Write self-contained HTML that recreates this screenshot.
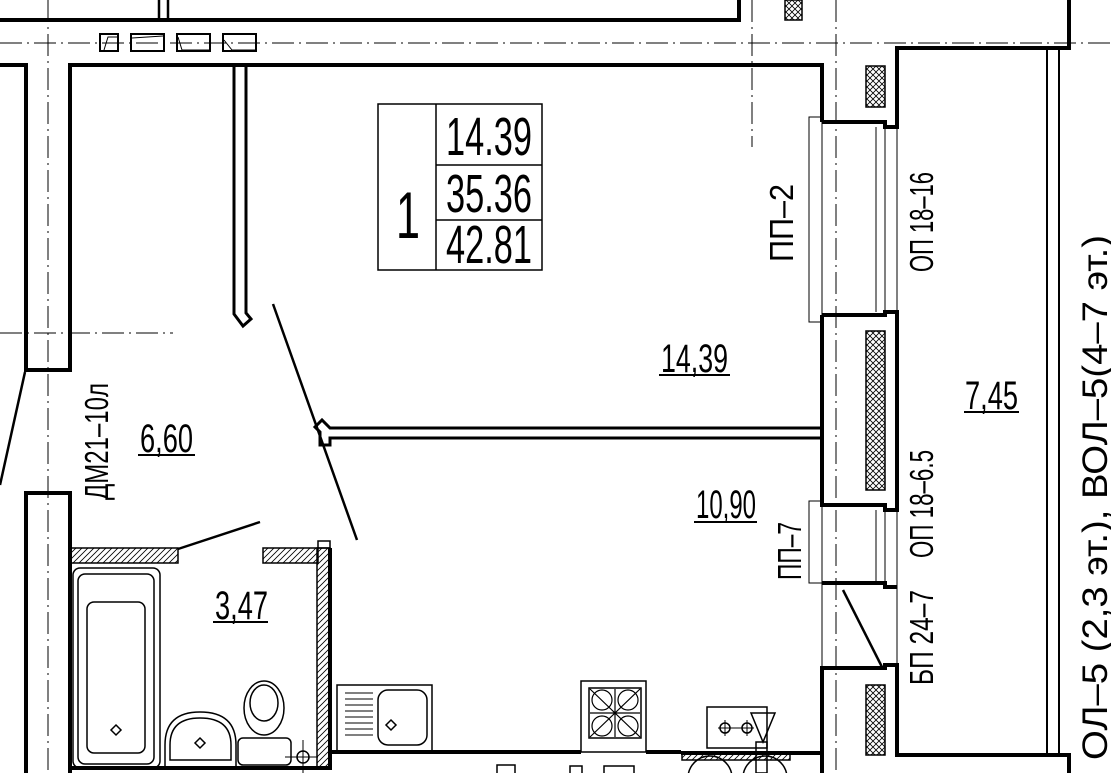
<!DOCTYPE html>
<html><head><meta charset="utf-8"><style>
html,body{margin:0;padding:0;background:#fff;width:1111px;height:773px;overflow:hidden}
svg{display:block}
text{font-family:"Liberation Sans",sans-serif;fill:#000}
</style></head><body>
<svg width="1111" height="773" viewBox="0 0 1111 773" xmlns="http://www.w3.org/2000/svg">
<defs>
<pattern id="xh" width="6" height="6" patternUnits="userSpaceOnUse"><path d="M0,0L6,6M6,0L0,6" stroke="#000" stroke-width="0.8"/></pattern>
<pattern id="dh" width="6" height="6" patternUnits="userSpaceOnUse"><path d="M0,6L6,0M-1,1L1,-1M5,7L7,5" stroke="#000" stroke-width="0.8"/></pattern>
</defs>
<g fill="none" stroke="#000">
<g stroke-width="1" stroke-dasharray="22,5,2,5">
<line x1="0" y1="43" x2="1111" y2="43"/>
<line x1="48" y1="0" x2="48" y2="773"/>
<line x1="0" y1="333" x2="173" y2="333"/>
<line x1="752" y1="0" x2="752" y2="147"/>
<line x1="836" y1="0" x2="836" y2="773"/>
</g>
<g stroke-width="4">
<path d="M0,20H739V0"/>
<path d="M159,0V20M168,0V20" stroke-width="2.5"/>
<path d="M0,65H26V370H70V65H822V122"/>
<path d="M24,493H70V773M26,493V773"/>
<path d="M822,122H885V127H897V48H1069V0"/>
<path d="M822,315H885V312H897V510H885V505H822V315"/>
<path d="M822,583H885V587H897"/>
<path d="M822,773V668H885V665H897V755H1069V773"/>
<path d="M681,753H822"/>
<path d="M70,768H330V548"/>
<path d="M330,752H581M646,752H681"/>
</g>
<g stroke-width="3">
<path d="M234,65V314L243,326L251,319L246,313V65"/>
<path d="M822,428H330L322,420L315,427L320,432V445H330V438H822"/>
<line x1="273" y1="304" x2="357" y2="540" stroke-width="2.5"/>
<line x1="25" y1="372" x2="0" y2="485" stroke-width="2.5"/>
<line x1="178" y1="549" x2="260" y2="522" stroke-width="2.5"/>
<line x1="843" y1="590" x2="882" y2="667" stroke-width="2.5"/>
</g>
<g stroke-width="1">
<rect x="809" y="117" width="13" height="205"/>
<line x1="822" y1="122" x2="822" y2="315" stroke-dasharray="6,3"/>
<line x1="876" y1="127" x2="876" y2="312"/><line x1="885" y1="127" x2="885" y2="312"/>
<line x1="897" y1="127" x2="897" y2="312"/>
<rect x="809" y="501" width="13" height="82"/>
<line x1="822" y1="505" x2="822" y2="583" stroke-dasharray="6,3"/>
<line x1="876" y1="510" x2="876" y2="583"/><line x1="885" y1="510" x2="885" y2="583"/>
<line x1="897" y1="510" x2="897" y2="587"/>
<line x1="822" y1="583" x2="822" y2="668"/><line x1="897" y1="587" x2="897" y2="665"/>
<line x1="1047" y1="50" x2="1047" y2="753" stroke-width="2"/>
<line x1="1059" y1="50" x2="1059" y2="753" stroke-width="2"/>
</g>
<g stroke-width="1.5">
<rect x="785" y="0" width="17" height="20" fill="url(#xh)"/>
<rect x="866" y="66" width="19" height="41" fill="url(#xh)"/>
<rect x="866" y="331" width="19" height="159" fill="url(#xh)"/>
<rect x="866" y="685" width="19" height="70" fill="url(#xh)"/>
<rect x="70" y="548" width="108" height="15" fill="url(#dh)"/>
<rect x="263" y="548" width="55" height="15" fill="url(#dh)"/>
<rect x="317" y="548" width="13" height="220" fill="url(#dh)"/>
<rect x="318" y="541" width="12" height="7"/>
<rect x="682" y="752" width="108" height="8" fill="url(#dh)"/>
</g>
<g stroke-width="2">
<rect x="100" y="34" width="18" height="17"/><rect x="131" y="34" width="33" height="17"/>
<rect x="177" y="34" width="33" height="17"/><rect x="223" y="34" width="33" height="17"/>
<path d="M104,50L108,37H117M132,38L163,36M178,37L182,50L209,50M224,40L232,50H255" stroke-width="1"/>
</g>
<g stroke-width="1.5">
<rect x="378" y="104" width="164" height="166"/>
<line x1="436" y1="104" x2="436" y2="270"/>
<line x1="436" y1="165" x2="542" y2="165"/><line x1="436" y1="220" x2="542" y2="220"/>
</g>
<g stroke-width="1.5">
<rect x="73" y="568" width="87" height="200" rx="7"/>
<rect x="78" y="574" width="76" height="190" rx="7"/>
<rect x="87" y="602" width="58" height="151" rx="7"/>
<path d="M116,725l5,5l-5,5l-5,-5z"/>
<path d="M165,766V745Q165,712 200,712Q236,712 236,745V766"/>
<path d="M170,760V745Q170,718 200,718Q231,718 231,745V760Z"/>
<path d="M200,738l5,5l-5,5l-5,-5z"/>
<rect x="238" y="738" width="53" height="27" rx="5"/>
<ellipse cx="264" cy="708" rx="20" ry="27"/>
<ellipse cx="264" cy="703" rx="14" ry="18"/>
<circle cx="303" cy="757" r="6"/>
<path d="M303,740V773M285,757H318" stroke-width="1"/>
</g>
<g stroke-width="1.5">
<rect x="337" y="685" width="95" height="67"/>
<path d="M345,693H373M345,699H373M345,705H373M345,711H373M345,717H373M345,723H373M345,729H373M345,735H373" stroke-width="1"/>
<rect x="378" y="690" width="49" height="55" rx="10"/>
<path d="M391,720l5,5l-5,5l-5,-5z"/>
<rect x="581" y="681" width="65" height="71"/>
<rect x="589" y="688" width="52" height="50"/>
<g stroke-width="1.2">
<circle cx="602" cy="700" r="10"/><circle cx="628" cy="700" r="10"/>
<circle cx="602" cy="726" r="10"/><circle cx="628" cy="726" r="10"/>
<path d="M590,689L640,737M640,689L590,737M590,713H640M615,689V737"/>
</g>
<rect x="707" y="707" width="60" height="41"/>
<circle cx="725" cy="728" r="5"/><circle cx="747" cy="728" r="5"/>
<path d="M718,728H754M725,720V736M747,720V736" stroke-width="1"/>
<path d="M751,713H775L763,742Z"/>
<rect x="756" y="742" width="11" height="31"/>
<circle cx="710" cy="778" r="22"/><circle cx="765" cy="778" r="22"/>
<rect x="497" y="765" width="18" height="12"/>
<rect x="604" y="766" width="30" height="12"/>
<rect x="570" y="766" width="12" height="12"/>
</g>
<g stroke-width="2">
<line x1="659" y1="375" x2="730" y2="375"/>
<line x1="694" y1="522" x2="757" y2="522"/>
<line x1="138" y1="455" x2="195" y2="455"/>
<line x1="213" y1="622" x2="268" y2="622"/>
<line x1="964" y1="412" x2="1019" y2="412"/>
</g>
</g>
<g font-size="54">
<text x="446" y="155" textLength="86" lengthAdjust="spacingAndGlyphs">14.39</text>
<text x="446" y="212" textLength="86" lengthAdjust="spacingAndGlyphs">35.36</text>
<text x="446" y="263" textLength="86" lengthAdjust="spacingAndGlyphs">42.81</text>
<text x="396" y="238" font-size="66" textLength="24" lengthAdjust="spacingAndGlyphs">1</text>
</g>
<g font-size="40">
<text x="661" y="372" textLength="67" lengthAdjust="spacingAndGlyphs">14,39</text>
<text x="696" y="518" textLength="60" lengthAdjust="spacingAndGlyphs">10,90</text>
<text x="140" y="452" textLength="53" lengthAdjust="spacingAndGlyphs">6,60</text>
<text x="215" y="619" textLength="53" lengthAdjust="spacingAndGlyphs">3,47</text>
<text x="965" y="409" textLength="53" lengthAdjust="spacingAndGlyphs">7,45</text>
</g>
<g font-size="33">
<text transform="translate(108,500) rotate(-90)" textLength="117" lengthAdjust="spacingAndGlyphs">ДМ21–10л</text>
<text transform="translate(793,262) rotate(-90)" textLength="78" lengthAdjust="spacingAndGlyphs">ПП–2</text>
<text transform="translate(933,272) rotate(-90)" textLength="100" lengthAdjust="spacingAndGlyphs">ОП 18–16</text>
<text transform="translate(801,580) rotate(-90)" textLength="58" lengthAdjust="spacingAndGlyphs">ПП–7</text>
<text transform="translate(933,558) rotate(-90)" textLength="108" lengthAdjust="spacingAndGlyphs">ОП 18–6.5</text>
<text transform="translate(933,685) rotate(-90)" textLength="95" lengthAdjust="spacingAndGlyphs">БП 24–7</text>
<text transform="translate(1107,760) rotate(-90)" font-size="35" textLength="525" lengthAdjust="spacingAndGlyphs">ОЛ–5 (2,3 эт.), ВОЛ–5(4–7 эт.)</text>
</g>
</svg>
</body></html>
